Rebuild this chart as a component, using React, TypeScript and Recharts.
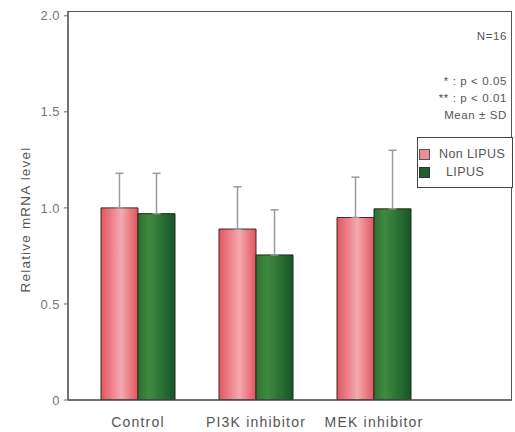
import { BarChart, Bar, XAxis, YAxis, ErrorBar } from "recharts";

const categories = ["Control", "PI3K inhibitor", "MEK inhibitor"];
const nonLipus = [1.0, 0.89, 0.95];
const nonLipusSd = [0.18, 0.22, 0.21];
const lipus = [0.97, 0.755, 0.995];
const lipusSd = [0.21, 0.235, 0.305];
const yTicks = [0, 0.5, 1.0, 1.5, 2.0];
const notes = ["* : p < 0.05", "** : p < 0.01", "Mean \u00b1 SD"];

const data = categories.map((c, i) => ({
  name: c,
  "Non LIPUS": nonLipus[i],
  nonErr: [0, nonLipusSd[i]],
  LIPUS: lipus[i],
  lipErr: [0, lipusSd[i]],
}));

const FONT = "'Liberation Sans', Arial, sans-serif";

const YTitle = ({ viewBox }: any) => {
  const x = (viewBox?.x ?? 0) + 30;
  const y = (viewBox?.y ?? 0) + (viewBox?.height ?? 0) / 2 + 14;
  return (
    <text
      x={x}
      y={y}
      transform={`rotate(-90, ${x}, ${y})`}
      textAnchor="middle"
      fontSize={13.5}
      letterSpacing={1.2}
      fill="#555"
      fontFamily={FONT}
    >
      Relative mRNA level
    </text>
  );
};

const LegendBox = () => (
  <div
    style={{
      position: "absolute",
      left: 417,
      top: 137,
      border: "1.5px solid #444",
      width: 96,
      height: 51,
      background: "#fff",
      fontFamily: FONT,
      fontSize: 12.5,
      letterSpacing: 0.4,
      color: "#555",
      boxSizing: "border-box",
      padding: "7px 0 0 1px",
    }}
  >
    <div style={{ display: "flex", alignItems: "center", height: 18 }}>
      <span
        style={{
          width: 9,
          height: 9,
          background: "#ef8a96",
          border: "1px solid #555",
          marginRight: 9,
        }}
      />
      Non LIPUS
    </div>
    <div style={{ display: "flex", alignItems: "center", height: 18 }}>
      <span
        style={{
          width: 9,
          height: 9,
          background: "#1f5f2e",
          border: "1px solid #333",
          marginRight: 16,
        }}
      />
      LIPUS
    </div>
  </div>
);

export default function App() {
  return (
    <div style={{ position: "absolute", left: 0, top: 0, width: 515, height: 432, background: "#fff" }}>
      <BarChart
        width={515}
        height={432}
        data={data}
        margin={{ top: 11, right: 3, left: 0, bottom: 0 }}
        barGap={0}
        barSize={37}
      >
        <defs>
          <linearGradient id="pinkGrad" x1="0" y1="0" x2="1" y2="0">
            <stop offset="0%" stopColor="#e2555d" />
            <stop offset="55%" stopColor="#f4a9b0" />
            <stop offset="100%" stopColor="#e2555d" />
          </linearGradient>
          <linearGradient id="greenGrad" x1="0" y1="0" x2="1" y2="0">
            <stop offset="0%" stopColor="#2e7034" />
            <stop offset="30%" stopColor="#3f8a3e" />
            <stop offset="100%" stopColor="#165628" />
          </linearGradient>
        </defs>
        <XAxis
          dataKey="name"
          padding={{ left: 11, right: 79 }}
          height={32}
          tickLine={false}
          axisLine={{ stroke: "#444", strokeWidth: 1.5 }}
          tick={{ fontSize: 14, letterSpacing: 1.2, fill: "#555", fontFamily: FONT, dy: 9 }}
          interval={0}
        />
        <YAxis
          width={68}
          domain={[0, 2.025]}
          ticks={yTicks}
          allowDataOverflow
          tickFormatter={(v: number) => (v === 0 ? "0" : v.toFixed(1))}
          tickSize={4}
          tickMargin={4}
          tickLine={{ stroke: "#666" }}
          axisLine={{ stroke: "#444", strokeWidth: 1.5 }}
          tick={{ fontSize: 13, letterSpacing: 0.5, fill: "#777", fontFamily: FONT }}
          label={<YTitle />}
        />
        <Bar
          dataKey="Non LIPUS"
          fill="url(#pinkGrad)"
          stroke="#3a2a2a"
          strokeWidth={1}
          isAnimationActive={false}
        >
          <ErrorBar dataKey="nonErr" direction="y" width={4} stroke="#9a9a9a" strokeWidth={1.5} />
        </Bar>
        <Bar
          dataKey="LIPUS"
          fill="url(#greenGrad)"
          stroke="#1d2a1d"
          strokeWidth={1}
          isAnimationActive={false}
        >
          <ErrorBar dataKey="lipErr" direction="y" width={4} stroke="#9a9a9a" strokeWidth={1.5} />
        </Bar>
      </BarChart>
      <div
        style={{
          position: "absolute",
          left: 68,
          top: 11,
          width: 444,
          height: 389,
          borderTop: "1.5px solid #555",
          borderRight: "1.5px solid #555",
          boxSizing: "border-box",
          pointerEvents: "none",
        }}
      />
      <LegendBox />
      <div
        style={{
          position: "absolute",
          right: 8,
          top: 28,
          textAlign: "right",
          fontFamily: FONT,
          fontSize: 11.5,
          letterSpacing: 0.6,
          color: "#555",
          lineHeight: "17px",
        }}
      >
        <div>N=16</div>
        <div style={{ height: 28 }} />
        {notes.map((n) => (
          <div key={n}>{n}</div>
        ))}
      </div>
    </div>
  );
}
